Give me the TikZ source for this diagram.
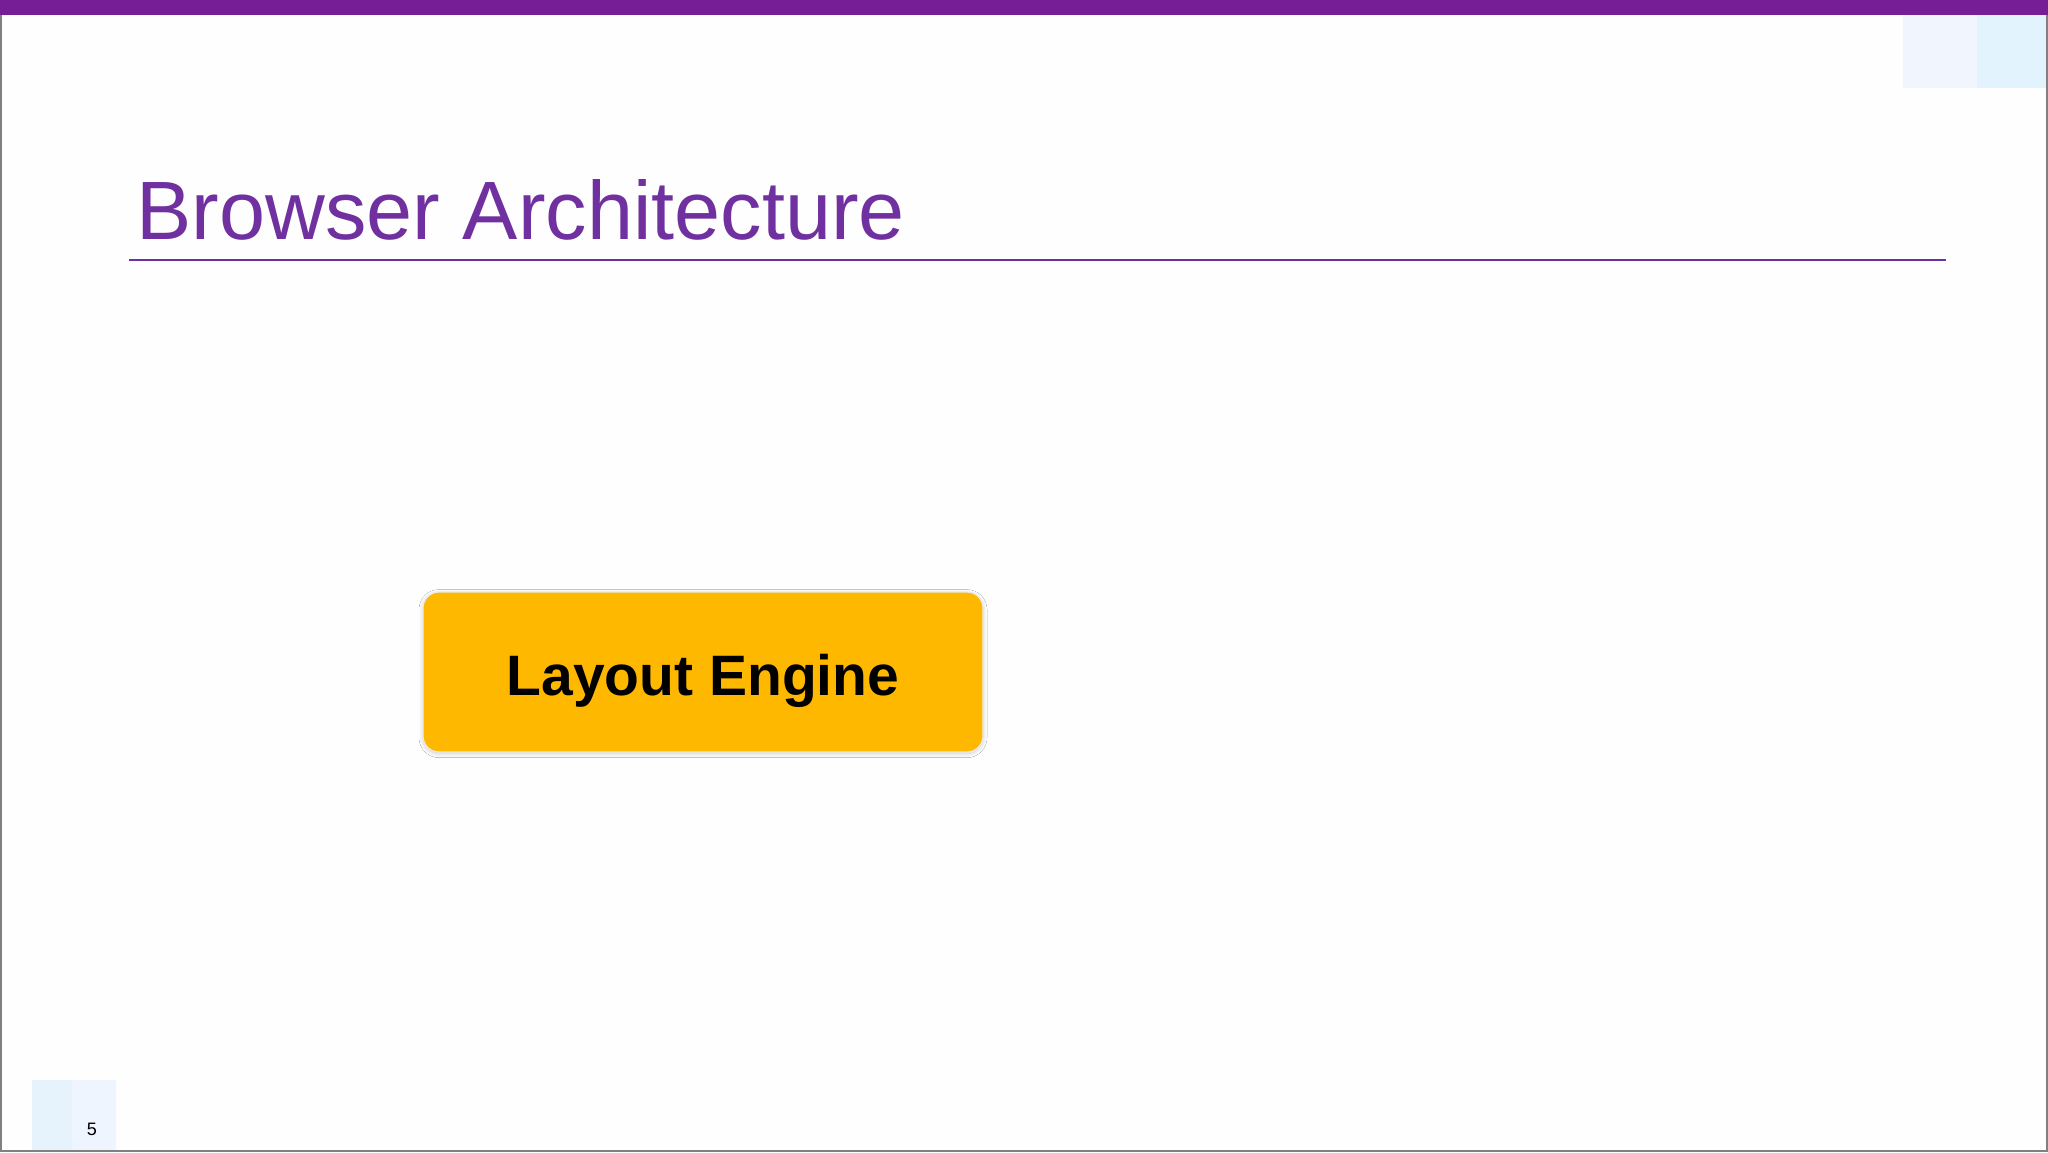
\documentclass[tikz,border=0pt]{standalone}
\usepackage{fontspec}
\setmainfont{Liberation Sans}
\usetikzlibrary{shadows.blur}
\definecolor{barpurple}{HTML}{761E96}
\definecolor{titlepurple}{HTML}{7030A0}
\definecolor{gold}{HTML}{FFB800}
\definecolor{sqA}{HTML}{F0F5FE}
\definecolor{sqB}{HTML}{E3F3FD}
\definecolor{sqC}{HTML}{E6F3FD}
\definecolor{sqD}{HTML}{EEF5FE}
\tikzset{
  engine/.style={rounded corners=8pt, fill=gold, draw=white!92!black, line width=0.6pt,
    minimum width=280pt, minimum height=80pt, inner sep=0pt,
    text height=28pt, text depth=5pt,
    font=\fontsize{28.5pt}{34pt}\selectfont\bfseries,
    blur shadow={shadow blur steps=5, shadow xshift=0pt, shadow yshift=-0.8pt, shadow opacity=20, shadow blur radius=2pt}},
  titletext/.style={anchor=base west, inner sep=0pt, text=titlepurple, font=\fontsize{41.4pt}{50pt}\selectfont},
}
\begin{document}
\begin{tikzpicture}[x=0.5pt,y=-0.5pt]
\useasboundingbox (0,0) rectangle (2048,1152);
\fill[white!99.5!black] (0,0) rectangle (2048,1152);
% decorative squares
\fill[sqA] (1903,15) rectangle (1977,88);
\fill[sqB] (1977,15) rectangle (2046,88);
\fill[sqC] (32,1080) rectangle (72,1152);
\fill[sqD] (72,1080) rectangle (116,1152);
% top bar
\fill[barpurple] (0,0) rectangle (2048,15);
% frame
\draw[gray, line width=1pt] (1,15) -- (1,1151) -- (2047,1151) -- (2047,15);
% title
\node[titletext] (title) at (136,239) {Browser Architecture};
\coordinate (ruleL) at (129,260);
\coordinate (ruleR) at (1946,260);
\draw[titlepurple, line width=1pt] (ruleL) -- (ruleR);
% box
\node[engine] (layout) at (703,672) {Layout Engine};
% page number
\node[anchor=base, inner sep=0pt, font=\fontsize{9pt}{11pt}\selectfont] (pagenum) at (92,1135) {5};
\end{tikzpicture}
\end{document}
